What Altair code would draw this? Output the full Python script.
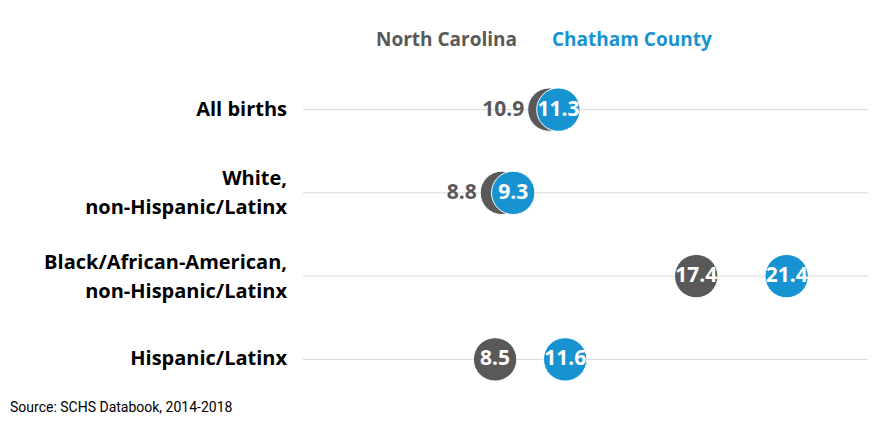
import altair as alt
import pandas as pd

categories = ["All births", "White,|non-Hispanic/Latinx",
              "Black/African-American,|non-Hispanic/Latinx", "Hispanic/Latinx"]
series = ["North Carolina", "Chatham County"]
nc_values = [10.9, 8.8, 17.4, 8.5]
cc_values = [11.3, 9.3, 21.4, 11.6]
source_text = "Source:  SCHS Databook, 2014-2018"

GRAY = "#595959"
BLUE = "#1793d1"
FONT = "Open Sans"

rows = []
for s, vals in zip(series, [nc_values, cc_values]):
    for i, (c, v) in enumerate(zip(categories, vals)):
        gap = abs(cc_values[i] - nc_values[i])
        rows.append({"category": c, "series": s, "value": v,
                     "label": f"{v:.1f}",
                     "inside": bool(s == series[1] or gap > 2)})
df = pd.DataFrame(rows)
cat_df = pd.DataFrame({"category": categories})

xscale = alt.Scale(domain=[0, 25], nice=False, zero=True)
yscale = alt.Scale(domain=categories)
yenc = alt.Y("category:N", scale=yscale, axis=None)
color = alt.Color("series:N", scale=alt.Scale(domain=series, range=[GRAY, BLUE]), legend=None)

grid = alt.Chart(cat_df).mark_rule(color="#d9d9d9", strokeWidth=1).encode(
    y=yenc, x=alt.datum(0, scale=xscale, axis=None), x2=alt.datum(25))

lab_style = dict(font=FONT, fontSize=20, fontWeight="bold", color="black",
                 align="right", baseline="middle", lineBreak="|", lineHeight=29)
labels1 = alt.Chart(cat_df).transform_filter("length(split(datum.category, '|')) < 2").mark_text(
    **lab_style).encode(y=yenc, x=alt.value(-16), text="category:N")
labels2 = alt.Chart(cat_df).transform_filter("length(split(datum.category, '|')) >= 2").mark_text(
    dy=-13.5, **lab_style).encode(y=yenc, x=alt.value(-16), text="category:N")

dots = alt.Chart(df).mark_circle(size=1880, opacity=1, stroke="white", strokeWidth=1).encode(
    x=alt.X("value:Q", scale=xscale, axis=None), y=yenc, color=color)

inside = alt.Chart(df).transform_filter("datum.inside").mark_text(
    font=FONT, fontSize=21, fontWeight="bold", color="white", align="center", baseline="middle"
).encode(x=alt.X("value:Q", scale=xscale, axis=None), y=yenc, text="label:N")

outside = alt.Chart(df).transform_filter("!datum.inside").mark_text(
    font=FONT, fontSize=21, fontWeight="bold", color=GRAY, align="right", baseline="middle", dx=-25
).encode(x=alt.X("value:Q", scale=xscale, axis=None), y=yenc, text="label:N")

leg_nc = alt.Chart(pd.DataFrame({"series": [series[0]]})).mark_text(
    font=FONT, fontSize=19, fontWeight="bold", align="left", baseline="middle", color=GRAY
).encode(x=alt.value(73), y=alt.value(-28), text="series:N")
leg_cc = alt.Chart(pd.DataFrame({"series": [series[1]]})).mark_text(
    font=FONT, fontSize=19, fontWeight="bold", align="left", baseline="middle", color=BLUE
).encode(x=alt.value(249), y=alt.value(-28), text="series:N")

src = alt.Chart(pd.DataFrame({"t": [source_text]})).mark_text(
    font="Roboto", fontSize=14, color="black", align="left", baseline="middle"
).encode(x=alt.value(-293), y=alt.value(340), text="t:N")

chart = alt.layer(grid, labels1, labels2, dots, inside, outside, leg_nc, leg_cc, src).properties(
    width=565, height=333,
    autosize=alt.AutoSizeParams(type="none"),
    padding={"left": 295, "top": 60, "right": 6, "bottom": 20},
    background="white",
).configure_view(stroke=None)

chart.save("out.html", embed_options={"renderer": "svg", "actions": False})
